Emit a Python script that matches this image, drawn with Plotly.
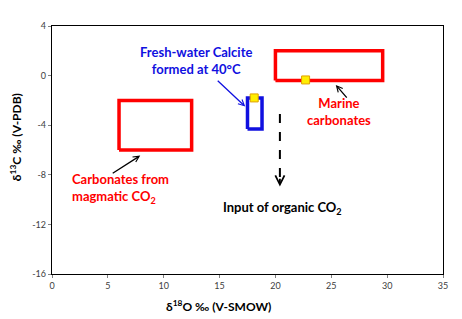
import plotly.graph_objects as go

# ---- data ----
x_ticks = [0, 5, 10, 15, 20, 25, 30, 35]
y_ticks = [4, 0, -4, -8, -12, -16]

magmatic_x = [6.0, 12.5, 12.5, 6.0, 6.0]
magmatic_y = [-6.0, -6.0, -2.0, -2.0, -6.0]

marine_x = [20.0, 29.6, 29.6, 20.0, 20.0]
marine_y = [-0.4, -0.4, 2.0, 2.0, -0.4]

fresh_x = [17.5, 18.8, 18.8, 17.5, 17.5]
fresh_y = [-4.3, -4.3, -1.8, -1.8, -4.3]

samples_x = [18.1, 22.7]
samples_y = [-1.8, -0.35]

organic_x = [20.4, 20.4]
organic_y = [-3.1, -8.6]
organic_head_y = [-8.2, -8.95]

FONT = "Lato"

fig = go.Figure()

fig.add_trace(go.Scatter(x=magmatic_x, y=magmatic_y, mode="lines",
                         line=dict(color="#FF0000", width=3.5), hoverinfo="skip"))
fig.add_trace(go.Scatter(x=marine_x, y=marine_y, mode="lines",
                         line=dict(color="#FF0000", width=3.5), hoverinfo="skip"))
fig.add_trace(go.Scatter(x=fresh_x, y=fresh_y, mode="lines",
                         line=dict(color="#1010E0", width=3.5), hoverinfo="skip"))
fig.add_trace(go.Scatter(x=organic_x, y=organic_y, mode="lines",
                         line=dict(color="black", width=2, dash="dash"), hoverinfo="skip"))
fig.add_trace(go.Scatter(x=samples_x, y=samples_y, mode="markers",
                         marker=dict(symbol="square", size=8, color="#FFEE00",
                                     line=dict(color="#E0A000", width=1)),
                         hoverinfo="skip"))

def arrow(x0, y0, x1, y1):
    fig.add_annotation(x=x1, y=y1, ax=x0, ay=y0, xref="x", yref="y",
                       axref="x", ayref="y", text="", showarrow=True,
                       arrowhead=5, arrowsize=0.9, arrowwidth=1.3,
                       arrowcolor="black", standoff=0)

# arrows
fig.add_annotation(x=17.3, y=-2.5, ax=14.7, ay=-0.3, xref="x", yref="y",
                   axref="x", ayref="y", text="", showarrow=True,
                   arrowhead=5, arrowsize=0.9, arrowwidth=1.3,
                   arrowcolor="#1010E0", standoff=0)
arrow(26.5, -1.9, 25.4, -0.75)
arrow(5.3, -7.95, 7.9, -6.45)
fig.add_annotation(x=organic_x[1], y=organic_head_y[1], ax=organic_x[0], ay=organic_head_y[0],
                   xref="x", yref="y", axref="x", ayref="y", text="", showarrow=True,
                   arrowhead=5, arrowsize=1.0, arrowwidth=1.8, arrowcolor="black", standoff=0)

# labels
fig.add_annotation(x=12.9, y=1.2, xref="x", yref="y", showarrow=False,
                   text="<b>Fresh-water Calcite<br>formed at 40°C</b>",
                   font=dict(family=FONT, size=13, color="#1010E0"), align="center")
fig.add_annotation(x=25.7, y=-2.9, xref="x", yref="y", showarrow=False,
                   text="<b>Marine<br>carbonates</b>",
                   font=dict(family=FONT, size=13, color="#FF0000"), align="center")
fig.add_annotation(x=1.6, y=-9.1, xref="x", yref="y", showarrow=False, xanchor="left",
                   text="<b>Carbonates from<br>magmatic CO<sub>2</sub></b>",
                   font=dict(family=FONT, size=13, color="#FF0000"), align="left")
fig.add_annotation(x=20.6, y=-10.7, xref="x", yref="y", showarrow=False,
                   text="<b>Input of organic CO<sub>2</sub></b>",
                   font=dict(family=FONT, size=13, color="black"), align="center")

# axis titles
fig.add_annotation(x=0.4256, y=-0.129, xref="paper", yref="paper", showarrow=False,
                   xanchor="center", yanchor="middle",
                   text="<b>δ<sup>18</sup>O ‰ (V-SMOW)</b>",
                   font=dict(family=FONT, size=12, color="black"))
fig.add_annotation(x=-0.09, y=0.551, xref="paper", yref="paper", showarrow=False,
                   xanchor="center", yanchor="middle",
                   text="<b>δ<sup>13</sup>C ‰ (V-PDB)</b>", textangle=-90,
                   font=dict(family=FONT, size=12, color="black"))

fig.update_layout(
    width=454, height=311,
    margin=dict(l=44, r=19, t=12, b=45),
    paper_bgcolor="white", plot_bgcolor="white",
    showlegend=False,
    font=dict(family=FONT),
)
fig.update_xaxes(range=[0, 35], tickvals=x_ticks, ticktext=[str(v) for v in x_ticks],
                 showgrid=False, zeroline=False, showline=True, linecolor="black",
                 linewidth=1.3, mirror=True, ticks="outside", ticklen=3,
                 tickcolor="#808080", tickfont=dict(size=9, color="#404040", family=FONT))
fig.update_yaxes(range=[-16, 4], tickvals=y_ticks, ticktext=[str(v) for v in y_ticks],
                 showgrid=False, zeroline=False, showline=True, linecolor="black",
                 linewidth=1.3, mirror=True, ticks="outside", ticklen=3,
                 tickcolor="#808080", tickfont=dict(size=9, color="#404040", family=FONT))

fig.write_html("out.html")
